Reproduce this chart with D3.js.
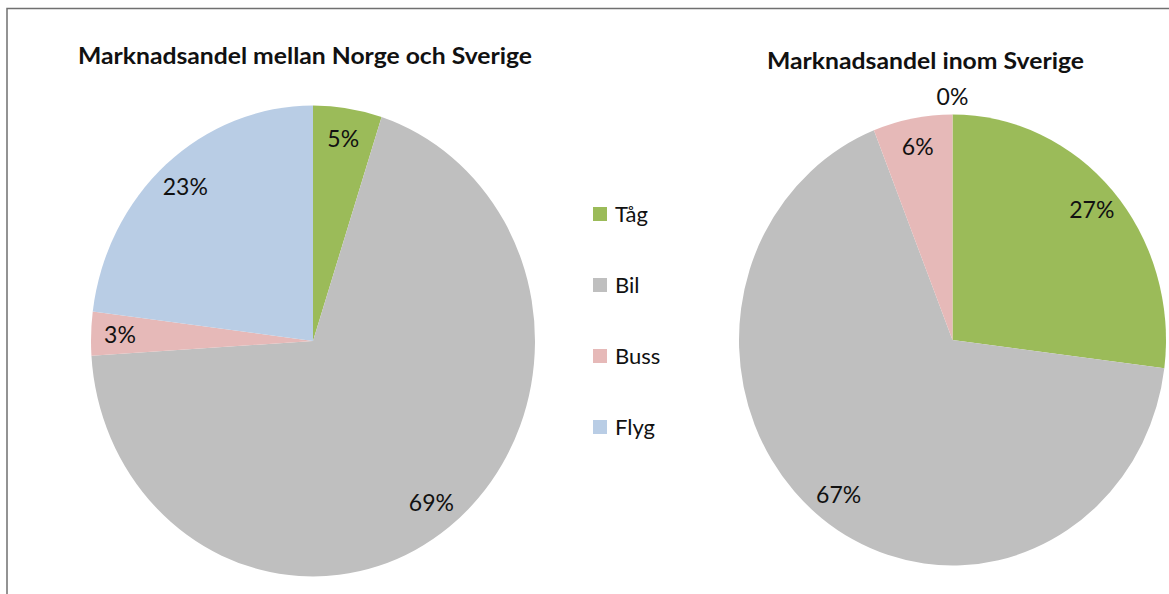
<!DOCTYPE html>
<html>
<head>
<meta charset="utf-8">
<script src="https://cdn.jsdelivr.net/npm/d3@7"></script>
<style>
  body { margin: 0; background: #fff; }
  svg { display: block; }
</style>
</head>
<body>
<div id="chart"></div>
<script>

var categories = ["Tåg", "Bil", "Buss", "Flyg"];
var mellanNorgeSverige = [5, 69, 3, 23];
var inomSverige = [27, 67, 6, 0];
var titles = ["Marknadsandel mellan Norge och Sverige", "Marknadsandel inom Sverige"];

var width = 1169, height = 594;

var svg = d3.select("#chart").append("svg")
    .attr("width", width)
    .attr("height", height);

var color = d3.scaleOrdinal()
    .domain(categories)
    .range(["#9bbb59", "#bfbfbf", "#e6b9b8", "#b9cde5"]);

var font = "Lato, 'Open Sans', sans-serif";

// frame (only top and left edges are inside the picture)
svg.append("rect")
    .attr("x", 7)
    .attr("y", 8.5)
    .attr("width", 1300)
    .attr("height", 800)
    .attr("fill", "none")
    .attr("stroke", "#707070")
    .attr("stroke-width", 1.5);

var pie = d3.pie().sort(null).value(function(d) { return d.value; });

// pies are slightly stretched vertically, as in the original
var charts = [
  {values: mellanNorgeSverige, title: titles[0], cx: 313, cy: 341, rx: 222, ry: 235.5, titleX: 305, titleY: 64, titleW: 454},
  {values: inomSverige, title: titles[1], cx: 952.5, cy: 340, rx: 213.5, ry: 225.5, titleX: 925.5, titleY: 69, titleW: 317}
];

charts.forEach(function(c) {
  var data = categories.map(function(k, i) { return {key: k, value: c.values[i]}; });
  var arcs = pie(data);
  var sy = c.ry / c.rx;

  var arc = d3.arc().innerRadius(0).outerRadius(c.rx);
  var labelArc = d3.arc().innerRadius(c.rx * 0.87).outerRadius(c.rx * 0.87);
  var outArc = d3.arc().innerRadius(c.rx * 1.08).outerRadius(c.rx * 1.08);

  svg.append("g")
      .attr("transform", "translate(" + c.cx + "," + c.cy + ") scale(1," + sy + ")")
    .selectAll("path")
    .data(arcs)
    .enter().append("path")
      .attr("d", arc)
      .attr("fill", function(d) { return color(d.data.key); });

  svg.append("g")
      .attr("transform", "translate(" + c.cx + "," + c.cy + ")")
    .selectAll("text")
    .data(arcs)
    .enter().append("text")
      .attr("x", function(d) { return (d.data.value === 0 ? outArc : labelArc).centroid(d)[0]; })
      .attr("y", function(d) { return (d.data.value === 0 ? outArc : labelArc).centroid(d)[1] * sy; })
      .attr("dy", "0.35em")
      .text(function(d) { return d.data.value + "%"; })
      .style("text-anchor", "middle")
      .attr("font-size", "23px")
      .attr("font-family", font)
      .attr("fill", "#111");

  svg.append("text")
      .attr("x", c.titleX)
      .attr("y", c.titleY)
      .text(c.title)
      .style("text-anchor", "middle")
      .attr("textLength", c.titleW)
      .attr("lengthAdjust", "spacingAndGlyphs")
      .attr("font-size", "23px")
      .attr("font-family", font)
      .attr("font-weight", "700")
      .attr("fill", "#111");
});

// legend
var legend = svg.append("g")
    .attr("class", "legend")
  .selectAll("g")
  .data(categories)
  .enter().append("g")
    .attr("transform", function(d, i) { return "translate(593," + (214 + i * 71) + ")"; });

legend.append("rect")
    .attr("x", 0)
    .attr("y", -7)
    .attr("width", 14)
    .attr("height", 14)
    .attr("fill", function(d) { return color(d); });

legend.append("text")
    .attr("x", 22)
    .attr("dy", "0.35em")
    .text(function(d) { return d; })
    .attr("font-size", "22px")
    .attr("font-family", font)
    .attr("fill", "#111");

</script>
</body>
</html>
